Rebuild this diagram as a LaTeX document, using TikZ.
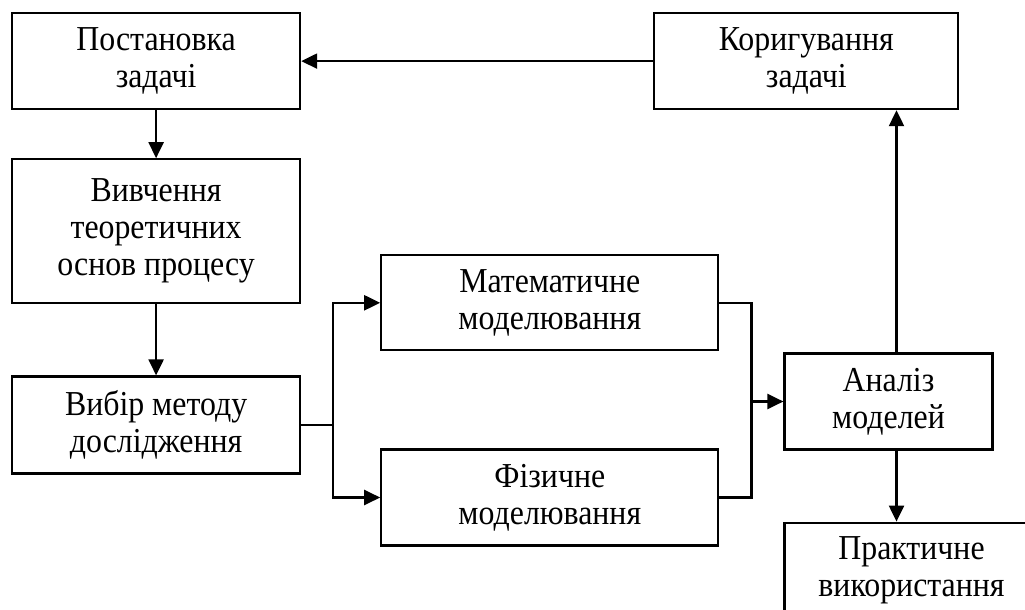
\documentclass[tikz,border=0pt]{standalone}
\usepackage{fontspec}
\setmainfont{Liberation Serif}[FakeStretch=0.91]
\usepackage{tikz}
\usetikzlibrary{arrows.meta,positioning}

\begin{document}
\begin{tikzpicture}[
    box/.style={rectangle, draw, line width=2.2pt, align=center, inner sep=0pt,
        font=\fontsize{35}{37}\selectfont, minimum height=96pt},
    narrow/.style={box, minimum width=288pt},
    wide/.style={box, minimum width=337pt},
    arr/.style={line width=2.2pt, -{Triangle[length=16pt, width=15pt]}},
    ln/.style={line width=2.2pt}
]
\useasboundingbox (0,0) rectangle (1025pt,-610pt);

% Left column
\node[narrow, anchor=north west] (post) at (11pt,-12pt) {Постановка\\задачі};
\node[narrow, below=48pt of post, minimum height=144pt] (study) {Вивчення\\теоретичних\\основ процесу};
\node[narrow, below=71pt of study, minimum height=97pt] (method) {Вибір методу\\дослідження};
\node[box, right=352pt of post, minimum width=304pt] (correct) {Коригування\\задачі};

% Models
\node[wide, above right=24pt and 79pt of method, minimum height=95pt] (math) {Математичне\\моделювання};
\node[wide, below=97pt of math] (phys) {Фізичне\\моделювання};

% Right column
\node[box, below right=1pt and 64pt of math, minimum width=208pt] (anal) {Аналіз\\моделей};
\node[box, below=71pt of anal.south west, anchor=north west, minimum width=254pt] (use) {Практичне\\використання};

\draw[arr] (post) -- (study);
\draw[arr] (study) -- (method);
\draw[arr] (correct) -- (post);

% Split and join
\coordinate[right=32pt of method.east] (split);
\draw[ln] (method) -- (split);
\draw[arr] (split) |- (math);
\draw[arr] (split) |- (phys);

\coordinate[right=32pt of math.east] (join);
\draw[ln] (math) -- (join) -- (join |- phys.east) -- (phys);
\draw[arr] (join |- anal.west) -- (anal);

\draw[arr] ([xshift=8pt]anal.north) -- ([xshift=8pt]anal.north |- correct.south);
\draw[arr] ([xshift=8pt]anal.south) -- ([xshift=8pt]anal.south |- use.north);
\end{tikzpicture}
\end{document}
